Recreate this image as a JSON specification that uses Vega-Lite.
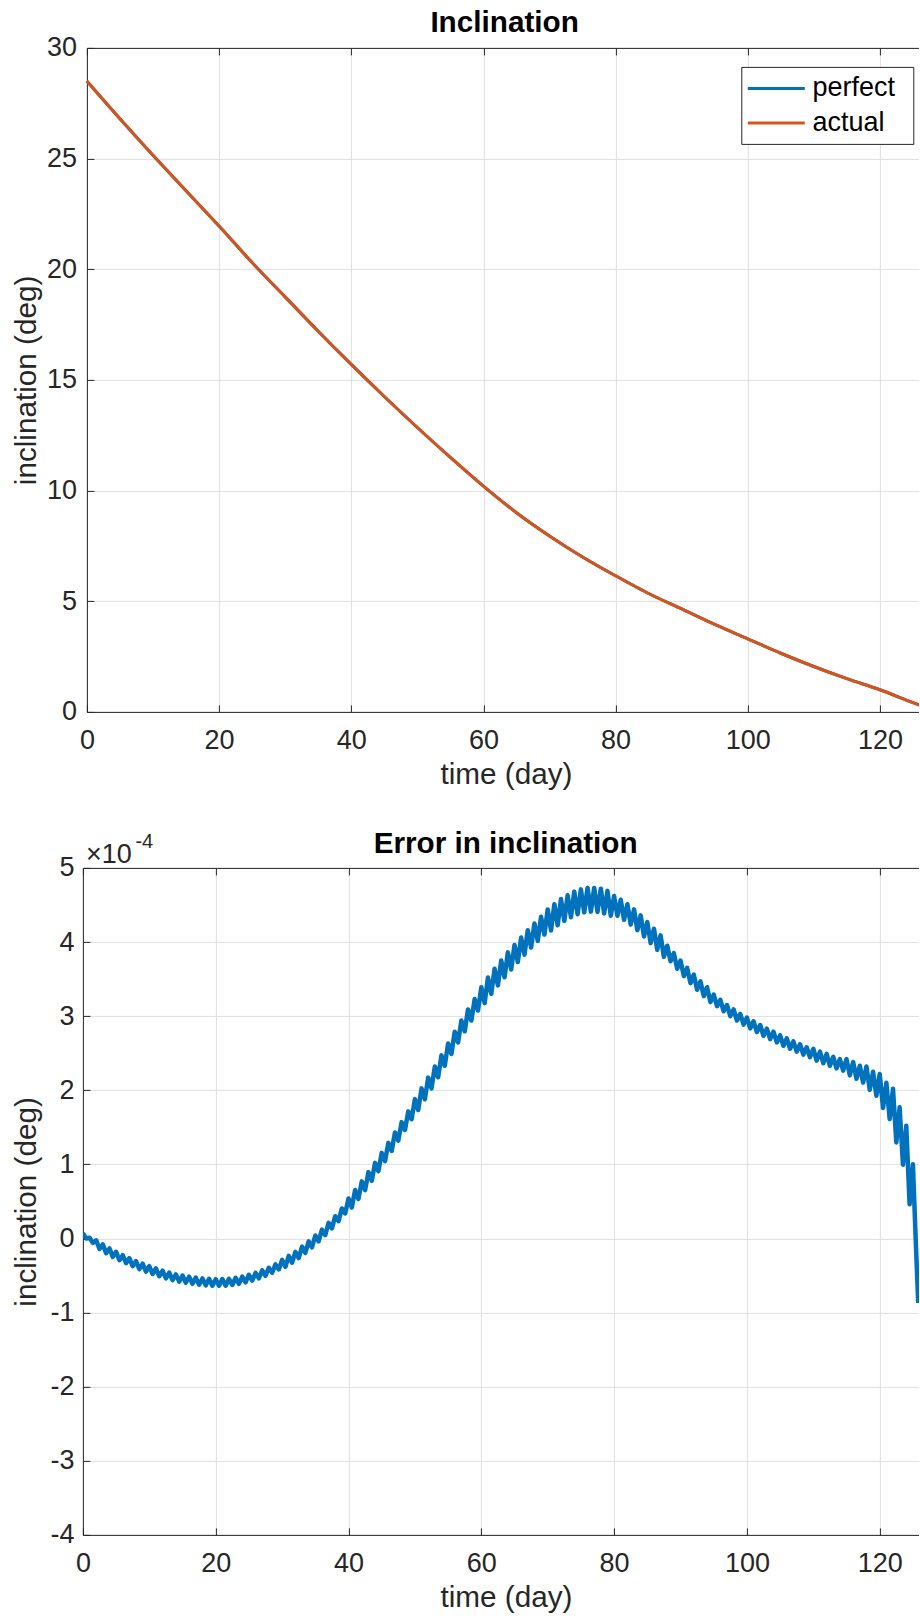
{
  "$schema": "https://vega.github.io/schema/vega-lite/v6.json",
  "background": "white",
  "padding": {"left": 10.9, "top": 7.9, "right": 0, "bottom": 0},
  "spacing": 39,
  "config": {
    "view": {"stroke": null},
    "font": "Liberation Sans",
    "axis": {
      "domainColor": "#262626",
      "domainWidth": 1,
      "tickColor": "#262626",
      "tickSize": -7,
      "tickWidth": 1,
      "gridColor": "#dfdfdf",
      "gridWidth": 1,
      "labelFont": "Liberation Sans",
      "labelFontSize": 27,
      "labelColor": "#262626",
      "labelFlush": false,
      "labelOverlap": false,
      "titleFont": "Liberation Sans",
      "titleFontSize": 29.7,
      "titleFontWeight": "normal",
      "titleColor": "#262626"
    },
    "title": {"font": "Liberation Sans", "fontSize": 29.7, "fontWeight": "bold", "color": "#000000", "baseline": "alphabetic", "frame": "group"}
  },
  "datasets": {
    "inclination": [
      {"t": 0, "inclination": 28.5, "series": "perfect"},
      {"t": 5, "inclination": 26.8, "series": "perfect"},
      {"t": 10, "inclination": 25.15, "series": "perfect"},
      {"t": 15, "inclination": 23.55, "series": "perfect"},
      {"t": 20, "inclination": 21.95, "series": "perfect"},
      {"t": 25, "inclination": 20.3, "series": "perfect"},
      {"t": 30, "inclination": 18.75, "series": "perfect"},
      {"t": 35, "inclination": 17.2, "series": "perfect"},
      {"t": 40, "inclination": 15.7, "series": "perfect"},
      {"t": 45, "inclination": 14.25, "series": "perfect"},
      {"t": 50, "inclination": 12.85, "series": "perfect"},
      {"t": 55, "inclination": 11.5, "series": "perfect"},
      {"t": 60, "inclination": 10.2, "series": "perfect"},
      {"t": 65, "inclination": 9.0, "series": "perfect"},
      {"t": 70, "inclination": 7.95, "series": "perfect"},
      {"t": 75, "inclination": 7.0, "series": "perfect"},
      {"t": 80, "inclination": 6.15, "series": "perfect"},
      {"t": 85, "inclination": 5.35, "series": "perfect"},
      {"t": 90, "inclination": 4.65, "series": "perfect"},
      {"t": 95, "inclination": 3.95, "series": "perfect"},
      {"t": 100, "inclination": 3.3, "series": "perfect"},
      {"t": 105, "inclination": 2.65, "series": "perfect"},
      {"t": 110, "inclination": 2.05, "series": "perfect"},
      {"t": 115, "inclination": 1.5, "series": "perfect"},
      {"t": 120, "inclination": 1.0, "series": "perfect"},
      {"t": 125, "inclination": 0.42, "series": "perfect"},
      {"t": 127, "inclination": 0.2, "series": "perfect"},
      {"t": 0, "inclination": 28.5, "series": "actual"},
      {"t": 5, "inclination": 26.8, "series": "actual"},
      {"t": 10, "inclination": 25.15, "series": "actual"},
      {"t": 15, "inclination": 23.55, "series": "actual"},
      {"t": 20, "inclination": 21.95, "series": "actual"},
      {"t": 25, "inclination": 20.3, "series": "actual"},
      {"t": 30, "inclination": 18.75, "series": "actual"},
      {"t": 35, "inclination": 17.2, "series": "actual"},
      {"t": 40, "inclination": 15.7, "series": "actual"},
      {"t": 45, "inclination": 14.25, "series": "actual"},
      {"t": 50, "inclination": 12.85, "series": "actual"},
      {"t": 55, "inclination": 11.5, "series": "actual"},
      {"t": 60, "inclination": 10.2, "series": "actual"},
      {"t": 65, "inclination": 9.0, "series": "actual"},
      {"t": 70, "inclination": 7.95, "series": "actual"},
      {"t": 75, "inclination": 7.0, "series": "actual"},
      {"t": 80, "inclination": 6.15, "series": "actual"},
      {"t": 85, "inclination": 5.35, "series": "actual"},
      {"t": 90, "inclination": 4.65, "series": "actual"},
      {"t": 95, "inclination": 3.95, "series": "actual"},
      {"t": 100, "inclination": 3.3, "series": "actual"},
      {"t": 105, "inclination": 2.65, "series": "actual"},
      {"t": 110, "inclination": 2.05, "series": "actual"},
      {"t": 115, "inclination": 1.5, "series": "actual"},
      {"t": 120, "inclination": 1.0, "series": "actual"},
      {"t": 125, "inclination": 0.42, "series": "actual"},
      {"t": 127, "inclination": 0.2, "series": "actual"}
    ],
    "error": [
      {"t": 0, "e": 0.07}, {"t": 0.5, "e": 0.0}, {"t": 1, "e": 0.01}, {"t": 1.5, "e": -0.06},
      {"t": 2, "e": -0.025}, {"t": 2.5, "e": -0.143}, {"t": 3, "e": -0.08}, {"t": 3.5, "e": -0.198},
      {"t": 4, "e": -0.135}, {"t": 4.5, "e": -0.248}, {"t": 5, "e": -0.18}, {"t": 5.5, "e": -0.293},
      {"t": 6, "e": -0.225}, {"t": 6.5, "e": -0.335}, {"t": 7, "e": -0.265}, {"t": 7.5, "e": -0.375},
      {"t": 8, "e": -0.305}, {"t": 8.5, "e": -0.413}, {"t": 9, "e": -0.34}, {"t": 9.5, "e": -0.448},
      {"t": 10, "e": -0.375}, {"t": 10.5, "e": -0.48}, {"t": 11, "e": -0.405}, {"t": 11.5, "e": -0.51},
      {"t": 12, "e": -0.435}, {"t": 12.5, "e": -0.538}, {"t": 13, "e": -0.46}, {"t": 13.5, "e": -0.563},
      {"t": 14, "e": -0.485}, {"t": 14.5, "e": -0.583}, {"t": 15, "e": -0.5}, {"t": 15.5, "e": -0.598},
      {"t": 16, "e": -0.515}, {"t": 16.5, "e": -0.612}, {"t": 17, "e": -0.528}, {"t": 17.5, "e": -0.624},
      {"t": 18, "e": -0.54}, {"t": 18.5, "e": -0.633}, {"t": 19, "e": -0.545}, {"t": 19.5, "e": -0.638},
      {"t": 20, "e": -0.55}, {"t": 20.5, "e": -0.639}, {"t": 21, "e": -0.548}, {"t": 21.5, "e": -0.637},
      {"t": 22, "e": -0.545}, {"t": 22.5, "e": -0.628}, {"t": 23, "e": -0.53}, {"t": 23.5, "e": -0.613},
      {"t": 24, "e": -0.515}, {"t": 24.5, "e": -0.593}, {"t": 25, "e": -0.49}, {"t": 25.5, "e": -0.568},
      {"t": 26, "e": -0.465}, {"t": 26.5, "e": -0.538}, {"t": 27, "e": -0.43}, {"t": 27.5, "e": -0.503},
      {"t": 28, "e": -0.395}, {"t": 28.5, "e": -0.463}, {"t": 29, "e": -0.35}, {"t": 29.5, "e": -0.418},
      {"t": 30, "e": -0.29}, {"t": 30.5, "e": -0.383}, {"t": 31, "e": -0.235}, {"t": 31.5, "e": -0.328},
      {"t": 32, "e": -0.18}, {"t": 32.5, "e": -0.265}, {"t": 33, "e": -0.11}, {"t": 33.5, "e": -0.195},
      {"t": 34, "e": -0.04}, {"t": 34.5, "e": -0.12}, {"t": 35, "e": 0.04}, {"t": 35.5, "e": -0.04},
      {"t": 36, "e": 0.12}, {"t": 36.5, "e": 0.045}, {"t": 37, "e": 0.21}, {"t": 37.5, "e": 0.135},
      {"t": 38, "e": 0.3}, {"t": 38.5, "e": 0.233}, {"t": 39, "e": 0.405}, {"t": 39.5, "e": 0.338},
      {"t": 40, "e": 0.54}, {"t": 40.5, "e": 0.418}, {"t": 41, "e": 0.655}, {"t": 41.5, "e": 0.533},
      {"t": 42, "e": 0.77}, {"t": 42.5, "e": 0.653}, {"t": 43, "e": 0.895}, {"t": 43.5, "e": 0.778},
      {"t": 44, "e": 1.02}, {"t": 44.5, "e": 0.908}, {"t": 45, "e": 1.155}, {"t": 45.5, "e": 1.043},
      {"t": 46, "e": 1.29}, {"t": 46.5, "e": 1.18}, {"t": 47, "e": 1.43}, {"t": 47.5, "e": 1.32},
      {"t": 48, "e": 1.57}, {"t": 48.5, "e": 1.463}, {"t": 49, "e": 1.715}, {"t": 49.5, "e": 1.608},
      {"t": 50, "e": 1.88}, {"t": 50.5, "e": 1.733}, {"t": 51, "e": 2.025}, {"t": 51.5, "e": 1.878},
      {"t": 52, "e": 2.17}, {"t": 52.5, "e": 2.025}, {"t": 53, "e": 2.32}, {"t": 53.5, "e": 2.175},
      {"t": 54, "e": 2.47}, {"t": 54.5, "e": 2.33}, {"t": 55, "e": 2.63}, {"t": 55.5, "e": 2.49},
      {"t": 56, "e": 2.79}, {"t": 56.5, "e": 2.645}, {"t": 57, "e": 2.94}, {"t": 57.5, "e": 2.795},
      {"t": 58, "e": 3.09}, {"t": 58.5, "e": 2.94}, {"t": 59, "e": 3.23}, {"t": 59.5, "e": 3.075},
      {"t": 60, "e": 3.39}, {"t": 60.5, "e": 3.175}, {"t": 61, "e": 3.52}, {"t": 61.5, "e": 3.3},
      {"t": 62, "e": 3.64}, {"t": 62.5, "e": 3.415}, {"t": 63, "e": 3.75}, {"t": 63.5, "e": 3.525},
      {"t": 64, "e": 3.86}, {"t": 64.5, "e": 3.63}, {"t": 65, "e": 3.96}, {"t": 65.5, "e": 3.73},
      {"t": 66, "e": 4.06}, {"t": 66.5, "e": 3.83}, {"t": 67, "e": 4.16}, {"t": 67.5, "e": 3.925},
      {"t": 68, "e": 4.25}, {"t": 68.5, "e": 4.015}, {"t": 69, "e": 4.34}, {"t": 69.5, "e": 4.1},
      {"t": 70, "e": 4.44}, {"t": 70.5, "e": 4.155}, {"t": 71, "e": 4.51}, {"t": 71.5, "e": 4.225},
      {"t": 72, "e": 4.58}, {"t": 72.5, "e": 4.285}, {"t": 73, "e": 4.63}, {"t": 73.5, "e": 4.335},
      {"t": 74, "e": 4.68}, {"t": 74.5, "e": 4.375}, {"t": 75, "e": 4.71}, {"t": 75.5, "e": 4.4},
      {"t": 76, "e": 4.73}, {"t": 76.5, "e": 4.41}, {"t": 77, "e": 4.73}, {"t": 77.5, "e": 4.405},
      {"t": 78, "e": 4.72}, {"t": 78.5, "e": 4.385}, {"t": 79, "e": 4.69}, {"t": 79.5, "e": 4.355},
      {"t": 80, "e": 4.62}, {"t": 80.5, "e": 4.355}, {"t": 81, "e": 4.57}, {"t": 81.5, "e": 4.3},
      {"t": 82, "e": 4.51}, {"t": 82.5, "e": 4.235}, {"t": 83, "e": 4.44}, {"t": 83.5, "e": 4.16},
      {"t": 84, "e": 4.36}, {"t": 84.5, "e": 4.075}, {"t": 85, "e": 4.27}, {"t": 85.5, "e": 3.985},
      {"t": 86, "e": 4.18}, {"t": 86.5, "e": 3.895}, {"t": 87, "e": 4.09}, {"t": 87.5, "e": 3.8},
      {"t": 88, "e": 3.95}, {"t": 88.5, "e": 3.74}, {"t": 89, "e": 3.85}, {"t": 89.5, "e": 3.64},
      {"t": 90, "e": 3.75}, {"t": 90.5, "e": 3.54}, {"t": 91, "e": 3.65}, {"t": 91.5, "e": 3.445},
      {"t": 92, "e": 3.56}, {"t": 92.5, "e": 3.355}, {"t": 93, "e": 3.47}, {"t": 93.5, "e": 3.27},
      {"t": 94, "e": 3.39}, {"t": 94.5, "e": 3.19}, {"t": 95, "e": 3.29}, {"t": 95.5, "e": 3.135},
      {"t": 96, "e": 3.22}, {"t": 96.5, "e": 3.065}, {"t": 97, "e": 3.15}, {"t": 97.5, "e": 3.0},
      {"t": 98, "e": 3.09}, {"t": 98.5, "e": 2.94}, {"t": 99, "e": 3.03}, {"t": 99.5, "e": 2.885},
      {"t": 100, "e": 2.98}, {"t": 100.5, "e": 2.835}, {"t": 101, "e": 2.93}, {"t": 101.5, "e": 2.785},
      {"t": 102, "e": 2.88}, {"t": 102.5, "e": 2.735}, {"t": 103, "e": 2.83}, {"t": 103.5, "e": 2.69},
      {"t": 104, "e": 2.79}, {"t": 104.5, "e": 2.645}, {"t": 105, "e": 2.74}, {"t": 105.5, "e": 2.6},
      {"t": 106, "e": 2.7}, {"t": 106.5, "e": 2.56}, {"t": 107, "e": 2.66}, {"t": 107.5, "e": 2.52},
      {"t": 108, "e": 2.62}, {"t": 108.5, "e": 2.48}, {"t": 109, "e": 2.58}, {"t": 109.5, "e": 2.445},
      {"t": 110, "e": 2.56}, {"t": 110.5, "e": 2.4}, {"t": 111, "e": 2.52}, {"t": 111.5, "e": 2.365},
      {"t": 112, "e": 2.49}, {"t": 112.5, "e": 2.33}, {"t": 113, "e": 2.45}, {"t": 113.5, "e": 2.295},
      {"t": 114, "e": 2.42}, {"t": 114.5, "e": 2.265}, {"t": 115, "e": 2.42}, {"t": 115.5, "e": 2.2},
      {"t": 116, "e": 2.38}, {"t": 116.5, "e": 2.155}, {"t": 117, "e": 2.33}, {"t": 117.5, "e": 2.105},
      {"t": 118, "e": 2.32}, {"t": 118.5, "e": 2.005}, {"t": 119, "e": 2.25}, {"t": 119.5, "e": 1.925},
      {"t": 120, "e": 2.22}, {"t": 120.5, "e": 1.76}, {"t": 121, "e": 2.1}, {"t": 121.5, "e": 1.61},
      {"t": 122, "e": 2.02}, {"t": 122.5, "e": 1.295}, {"t": 123, "e": 1.77}, {"t": 123.5, "e": 0.995},
      {"t": 124, "e": 1.52}, {"t": 124.5, "e": 0.46}, {"t": 125, "e": 1.0}, {"t": 125.5, "e": -0.2},
      {"t": 125.8, "e": -0.87}
    ]
  },
  "vconcat": [
    {
      "title": {"text": "Inclination", "offset": -5, "dx": 3.7},
      "width": 836,
      "height": 664,
      "data": {"name": "inclination"},
      "resolve": {"axis": {"x": "independent"}},
      "layer": [
        {
          "transform": [{"filter": "datum.series === 'perfect'"}],
          "mark": {"type": "line", "strokeWidth": 3, "clip": true, "interpolate": "monotone"},
          "encoding": {
            "x": {
              "field": "t", "type": "quantitative",
              "scale": {"domain": [0, 125.9], "range": [4, 836], "nice": false, "zero": false},
              "axis": {
                "orient": "bottom", "values": [0, 20, 40, 60, 80, 100, 120], "grid": true,
                "labelPadding": 22.2, "title": "time (day)", "titleBaseline": "alphabetic",
                "titleY": 72, "titleX": 423
              }
            },
            "y": {
              "field": "inclination", "type": "quantitative",
              "scale": {"domain": [0, 30], "nice": false, "zero": false},
              "axis": {
                "offset": -4,
                "values": [0, 5, 10, 15, 20, 25, 30], "grid": true, "labelPadding": 17.5,
                "title": "inclination (deg)", "titleBaseline": "alphabetic", "titleX": -51.3
              }
            },
            "color": {
              "datum": "perfect", "type": "nominal",
              "scale": {"domain": ["perfect", "actual"], "range": ["#0072BD", "#D95319"]},
              "legend": {
                "orient": "none", "legendX": 658.4, "legendY": 19, "title": null,
                "symbolType": "M-2.85,0H2.85M12.25,0", "symbolSize": 400, "symbolStrokeWidth": 3,
                "symbolOffset": 13.5, "labelOffset": 22.8,
                "labelFont": "Liberation Sans", "labelFontSize": 27, "labelColor": "#000000",
                "strokeColor": "#262626", "fillColor": "#ffffff", "padding": 8, "rowPadding": 6.5
              }
            }
          }
        },
        {
          "transform": [{"filter": "datum.series === 'actual'"}],
          "mark": {"type": "line", "strokeWidth": 3, "clip": true, "interpolate": "monotone"},
          "encoding": {
            "x": {"field": "t", "type": "quantitative", "scale": {"domain": [0, 125.9], "range": [4, 836], "nice": false, "zero": false}, "axis": null},
            "y": {"field": "inclination", "type": "quantitative", "scale": {"domain": [0, 30], "nice": false, "zero": false}},
            "color": {"datum": "actual", "type": "nominal"}
          }
        },
        {
          "transform": [{"filter": "datum.series === 'actual'"}],
          "mark": {"type": "line", "strokeOpacity": 0, "clip": true},
          "encoding": {
            "x": {
              "field": "t", "type": "quantitative", "scale": {"domain": [0, 125.9], "range": [4, 836], "nice": false, "zero": false},
              "axis": {"orient": "top", "values": [0, 20, 40, 60, 80, 100, 120], "labels": false, "grid": false, "title": null}
            },
            "y": {"field": "inclination", "type": "quantitative", "scale": {"domain": [0, 30], "nice": false, "zero": false}}
          }
        }
      ]
    },
    {
      "title": {"text": "Error in inclination", "offset": -27.7, "dx": 4.7},
      "width": 836,
      "height": 667,
      "resolve": {"axis": {"x": "independent"}},
      "layer": [
        {
          "data": {"name": "error"},
          "mark": {"type": "line", "strokeWidth": 4.5, "clip": true, "color": "#0072BD", "strokeJoin": "round"},
          "encoding": {
            "x": {
              "field": "t", "type": "quantitative",
              "scale": {"domain": [0, 125.9], "nice": false, "zero": false},
              "axis": {
                "orient": "bottom", "values": [0, 20, 40, 60, 80, 100, 120], "grid": true,
                "labelPadding": 22.2, "title": "time (day)", "titleBaseline": "alphabetic",
                "titleY": 72, "titleX": 423
              }
            },
            "y": {
              "field": "e", "type": "quantitative",
              "scale": {"domain": [-4, 5], "nice": false, "zero": false},
              "axis": {
                "values": [-4, -3, -2, -1, 0, 1, 2, 3, 4, 5], "grid": true, "labelPadding": 15.8,
                "labelExpr": "'' + datum.value",
                "title": "inclination (deg)", "titleBaseline": "alphabetic", "titleX": -47.3
              }
            }
          }
        },
        {
          "data": {"name": "error"},
          "mark": {"type": "line", "strokeOpacity": 0, "clip": true},
          "encoding": {
            "x": {
              "field": "t", "type": "quantitative", "scale": {"domain": [0, 125.9], "nice": false, "zero": false},
              "axis": {"orient": "top", "values": [0, 20, 40, 60, 80, 100, 120], "labels": false, "grid": false, "title": null}
            },
            "y": {"field": "e", "type": "quantitative", "scale": {"domain": [-4, 5], "nice": false, "zero": false}}
          }
        },
        {
          "data": {"values": [{"base": "×10", "power": "-4"}]},
          "mark": {"type": "text", "align": "left", "baseline": "alphabetic", "dx": 3, "dy": -5.3, "fontSize": 27, "font": "Liberation Sans", "color": "#262626"},
          "encoding": {
            "x": {"datum": 0, "type": "quantitative", "axis": null},
            "y": {"datum": 5, "type": "quantitative"},
            "text": {"field": "base"}
          }
        },
        {
          "data": {"values": [{"base": "×10", "power": "-4"}]},
          "mark": {"type": "text", "align": "left", "baseline": "alphabetic", "dx": 52.5, "dy": -20, "fontSize": 20, "font": "Liberation Sans", "color": "#262626"},
          "encoding": {
            "x": {"datum": 0, "type": "quantitative", "axis": null},
            "y": {"datum": 5, "type": "quantitative"},
            "text": {"field": "power"}
          }
        }
      ]
    }
  ]
}
